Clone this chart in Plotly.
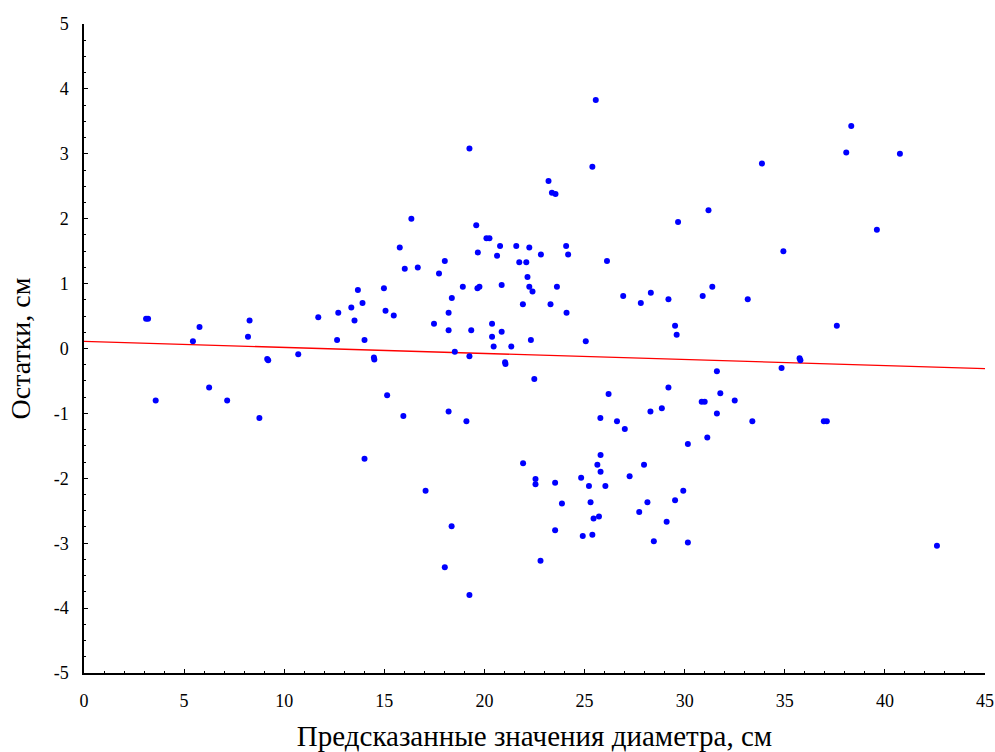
import plotly.graph_objects as go

# Predicted diameter (cm) and residuals (cm)
pred = [
    3.1, 3.2, 5.44, 5.77, 8.19, 8.27, 9.15, 9.2, 10.7, 11.7,
    3.58, 6.25, 7.15, 8.76,
    25.56, 19.25, 25.39, 23.2, 23.37, 23.55, 16.35, 19.59, 20.1, 20.25,
    20.78, 21.59, 22.24, 24.08, 15.77, 19.67, 20.63, 22.82, 24.18, 26.12,
    21.74, 22.09, 16.02, 16.67, 18.02, 17.73, 22.15, 18.92, 19.65, 19.75,
    20.86, 22.24, 22.4, 23.62, 13.68, 14.98, 28.31, 26.93, 27.81, 13.91,
    13.35, 13.51, 18.37, 21.92, 23.3, 24.1, 12.7, 15.06, 15.47, 18.21,
    17.48, 20.38, 18.21, 19.34, 20.38, 20.86, 12.64, 14.01, 22.32, 25.06,
    20.46, 21.34, 18.52, 19.25, 14.48, 14.5, 21.03, 21.05,
    22.49, 15.14, 26.2, 28.29, 25.79, 26.62, 27.01, 15.95, 18.21, 19.1,
    14.01, 21.93, 25.8, 25.64, 25.8, 27.97, 22.55, 22.55, 23.53, 24.83,
    25.22, 26.04, 27.25, 17.06, 23.87, 25.3, 28.14, 25.45, 25.72, 27.73,
    18.36, 23.53, 24.91, 25.39, 28.46, 22.8, 18.02, 19.25,
    38.32, 38.07, 40.75, 33.86, 31.19, 29.67, 39.6, 34.93, 29.19, 31.38,
    30.9, 33.15, 29.52, 29.6, 37.6, 35.74, 35.78, 34.84, 31.61, 29.19,
    31.78, 30.85, 31.0, 32.5, 28.86, 31.61, 33.38, 36.95, 37.1, 31.13,
    30.16, 29.93, 29.52, 29.1, 30.16, 42.6,
]
resid = [
    0.46, 0.46, 0.11, 0.33, 0.18, 0.43, -0.16, -0.18, -0.09, 0.48,
    -0.80, -0.60, -0.80, -1.07,
    3.83, 3.08, 2.80, 2.58, 2.40, 2.38, 2.00, 1.90, 1.70, 1.70,
    1.58, 1.58, 1.555, 1.58, 1.555, 1.48, 1.43, 1.45, 1.45, 1.35,
    1.33, 1.33, 1.23, 1.25, 1.35, 1.155, 1.10, 0.95, 0.93, 0.95,
    0.98, 0.95, 0.88, 0.95, 0.90, 0.93, 0.86, 0.81, 0.70, 0.70,
    0.63, 0.43, 0.78, 0.68, 0.68, 0.55, 0.55, 0.58, 0.51, 0.55,
    0.38, 0.38, 0.28, 0.28, 0.18, 0.26, 0.13, 0.13, 0.13, 0.11,
    0.03, 0.03, -0.05, -0.12, -0.14, -0.17, -0.21, -0.24,
    -0.47, -0.72, -0.70, -0.97, -1.07, -1.12, -1.24, -1.04, -0.97, -1.12,
    -1.70, -1.77, -1.64, -1.79, -1.90, -1.79, -2.01, -2.09, -2.07, -1.99,
    -2.12, -2.12, -1.97, -2.19, -2.39, -2.37, -2.37, -2.62, -2.59, -2.52,
    -2.74, -2.80, -2.89, -2.87, -2.97, -3.27, -3.37, -3.80,
    3.43, 3.02, 3.00, 2.85, 2.13, 1.95, 1.83, 1.50, 0.76, 0.95,
    0.81, 0.76, 0.35, 0.21, 0.35, -0.15, -0.18, -0.30, -0.35, -0.60,
    -0.69, -0.82, -0.82, -0.80, -0.92, -1.00, -1.12, -1.12, -1.12, -1.37,
    -1.47, -2.19, -2.34, -2.67, -2.99, -3.04,
]

# Fitted trend line of residuals
line_x = [0, 45]
line_y = [0.11, -0.31]

x_ticks = [0, 5, 10, 15, 20, 25, 30, 35, 40, 45]
y_ticks = [-5, -4, -3, -2, -1, 0, 1, 2, 3, 4, 5]

serif = "Liberation Serif, Times New Roman, serif"

fig = go.Figure()
fig.add_trace(go.Scatter(
    x=line_x, y=line_y, mode="lines",
    line=dict(color="#FF0000", width=1.3),
    hoverinfo="skip", showlegend=False,
))
fig.add_trace(go.Scatter(
    x=pred, y=resid, mode="markers",
    marker=dict(color="#0000FF", size=6, line=dict(width=0)),
    showlegend=False,
))

axis_common = dict(
    showgrid=False, zeroline=False, showline=True,
    linecolor="#000000", linewidth=1.5, mirror=False,
    ticks="inside", ticklen=4, tickwidth=1, tickcolor="#000000",
    tickfont=dict(family=serif, size=18, color="#000000"),
    ticklabeloverflow="allow",
    automargin=False,
)

fig.update_layout(
    width=995, height=752,
    margin=dict(l=84, r=10, t=24, b=79),
    paper_bgcolor="white", plot_bgcolor="white",
    xaxis=dict(
        range=[0, 45], tickvals=x_ticks, ticktext=[str(v) for v in x_ticks],
        minor=dict(dtick=1, ticks="inside", ticklen=2, tickcolor="#000000"),
        ticklabelstandoff=11,
        title=dict(text="Предсказанные значения диаметра, см",
                   font=dict(family=serif, size=29, color="#000000"), standoff=20),
        **axis_common,
    ),
    yaxis=dict(
        range=[-5, 5], tickvals=y_ticks, ticktext=[str(v) for v in y_ticks],
        minor=dict(dtick=0.25, ticks="inside", ticklen=2, tickcolor="#000000"),
        ticklabelstandoff=10,
        title=dict(text="Остатки, см",
                   font=dict(family=serif, size=28, color="#000000"), standoff=15),
        **axis_common,
    ),
)

fig.write_html("out.html")
